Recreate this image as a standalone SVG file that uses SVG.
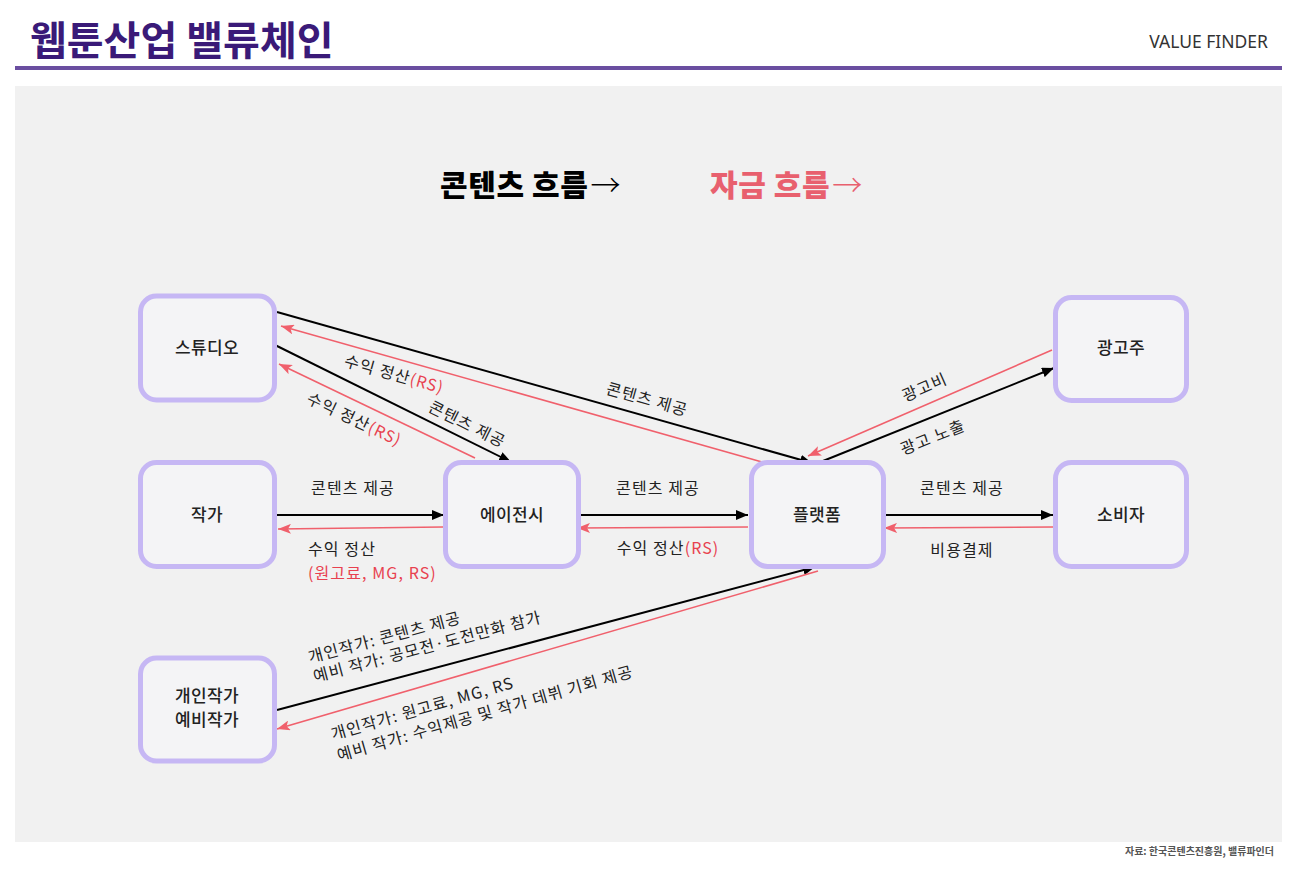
<svg xmlns="http://www.w3.org/2000/svg" width="1290" height="869" viewBox="0 0 1290 869">
<style>
  .kr { font-family: "Noto Sans CJK KR", "Noto Sans", sans-serif; }
  .node rect { fill: #f4f4f6; stroke: #c6b7f4; stroke-width: 5; }
  .ntext { font-family: "Noto Sans CJK KR", sans-serif; font-size: 17px; font-weight: 500; fill: #222; text-anchor: middle; letter-spacing: 0.3px; }
  .lbl { font-family: "Noto Sans CJK KR", sans-serif; font-size: 16px; fill: #222; letter-spacing: 1.1px; }
  .mid { text-anchor: middle; }
  .red { fill: #e8414f; }
  .cb { stroke: #000; stroke-width: 2; fill: none; marker-end: url(#ab); }
  .cr { stroke: #f0606c; stroke-width: 1.6; fill: none; marker-end: url(#ar); }
  .arr { font-family: "Noto Sans CJK KR", sans-serif; font-weight: 300; font-size: 30px; }
</style>
<defs>
  <marker id="ab" viewBox="0 0 12 10" refX="12" refY="5" markerWidth="12" markerHeight="10" orient="auto" markerUnits="userSpaceOnUse">
    <path d="M0,0 L12,5 L0,10 z" fill="#000"/>
  </marker>
  <marker id="ar" viewBox="0 0 13 10" refX="13" refY="5" markerWidth="13" markerHeight="10" orient="auto" markerUnits="userSpaceOnUse">
    <path d="M0,0 L13,5 L0,10 L3,5 z" fill="#f0606c"/>
  </marker>
</defs>
<rect x="0" y="0" width="1290" height="869" fill="#ffffff"/>
<text x="30" y="55" class="kr" font-size="40" font-weight="700" fill="#3a1a78">웹툰산업 밸류체인</text>
<text x="1268" y="48" font-family="Noto Sans, sans-serif" font-size="17.5" font-weight="400" fill="#333" text-anchor="end">VALUE FINDER</text>
<rect x="15" y="66" width="1267" height="4" fill="#6a4ea0"/>
<rect x="15" y="86" width="1267" height="756" fill="#f1f1f1"/>
<text x="440" y="196" class="kr" font-size="30" font-weight="900" fill="#000" letter-spacing="0.6">콘텐츠 흐름<tspan class="arr" dx="2">→</tspan></text>
<text x="710" y="196" class="kr" font-size="30" font-weight="900" fill="#e8606e" letter-spacing="0.6">자금 흐름<tspan class="arr" dx="2">→</tspan></text>
<text x="1274" y="855" class="kr" font-size="10" font-weight="700" fill="#555" text-anchor="end">자료: 한국콘텐츠진흥원, 밸류파인더</text>

<g id="connectors">
  <path class="cb" d="M277,312 L812,463"/>
  <path class="cr" d="M762,462 L281,326"/>
  <path class="cb" d="M273,344 L511,462"/>
  <path class="cr" d="M475,458 L279,364"/>
  <path class="cb" d="M276,515 L444,515"/>
  <path class="cr" d="M443,527 L278,529"/>
  <path class="cb" d="M580,515 L748,515"/>
  <path class="cr" d="M748,527 L577,528"/>
  <path class="cb" d="M885,515 L1053,515"/>
  <path class="cr" d="M1053,527 L884,528"/>
  <path class="cb" d="M818,463 L1054,368"/>
  <path class="cr" d="M1052,350 L808,456"/>
  <path class="cb" d="M277,710 L815,567"/>
  <path class="cr" d="M818,571 L277,729"/>

  <text class="lbl mid" transform="translate(647,400) rotate(15.8)" y="5">콘텐츠 제공</text>
  <text class="lbl mid" transform="translate(394,375) rotate(15.7)" y="5">수익 정산<tspan class="red">(RS)</tspan></text>
  <text class="lbl mid" transform="translate(467,425) rotate(26.5)" y="5">콘텐츠 제공</text>
  <text class="lbl mid" transform="translate(354,420) rotate(25.5)" y="5">수익 정산<tspan class="red">(RS)</tspan></text>
  <text class="lbl mid" transform="translate(925,388) rotate(-23.7)" y="5">광고비</text>
  <text class="lbl mid" transform="translate(933,438) rotate(-21.9)" y="5">광고 노출</text>

  <text class="lbl mid" x="353" y="494">콘텐츠 제공</text>
  <text class="lbl" x="308" y="555">수익 정산</text>
  <text class="lbl red" x="308" y="579" font-size="15.5" letter-spacing="0.4">(원고료, MG, RS)</text>
  <text class="lbl mid" x="658" y="494">콘텐츠 제공</text>
  <text class="lbl mid" x="668" y="554">수익 정산<tspan class="red">(RS)</tspan></text>
  <text class="lbl mid" x="962" y="494">콘텐츠 제공</text>
  <text class="lbl mid" x="962" y="556">비용결제</text>

  <g transform="translate(310,663) rotate(-14.8)">
    <text class="lbl" x="0" y="0">개인작가: 콘텐츠 제공</text>
    <text class="lbl" x="0" y="20">예비 작가: 공모전·도전만화 참가</text>
  </g>
  <g transform="translate(333,740) rotate(-16)">
    <text class="lbl" x="0" y="0">개인작가: 원고료, MG, RS</text>
    <text class="lbl" x="0" y="22">예비 작가: 수익제공 및 작가 데뷔 기회 제공</text>
  </g>
</g>

<g id="node-studio" class="node">
  <rect x="140.5" y="296" width="134" height="104" rx="16"/>
  <text class="ntext" x="207" y="354">스튜디오</text>
</g>
<g id="node-writer" class="node">
  <rect x="140.5" y="462.5" width="134" height="104" rx="16"/>
  <text class="ntext" x="207" y="521">작가</text>
</g>
<g id="node-agency" class="node">
  <rect x="445.5" y="462.5" width="133" height="104" rx="16"/>
  <text class="ntext" x="512" y="521">에이전시</text>
</g>
<g id="node-platform" class="node">
  <rect x="751.5" y="462.5" width="132" height="104" rx="16"/>
  <text class="ntext" x="817" y="521">플랫폼</text>
</g>
<g id="node-advertiser" class="node">
  <rect x="1055.5" y="297.5" width="131" height="103" rx="16"/>
  <text class="ntext" x="1121" y="354">광고주</text>
</g>
<g id="node-consumer" class="node">
  <rect x="1055.5" y="462.5" width="131" height="104" rx="16"/>
  <text class="ntext" x="1121" y="521">소비자</text>
</g>
<g id="node-individual" class="node">
  <rect x="140.5" y="658" width="134" height="103" rx="16"/>
  <text class="ntext" x="207" y="702" font-size="16.5">개인작가</text>
  <text class="ntext" x="207" y="726" font-size="16.5">예비작가</text>
</g>
</svg>
